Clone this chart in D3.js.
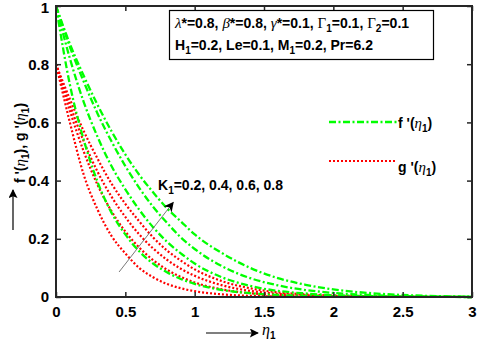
<!DOCTYPE html>
<html><head><meta charset="utf-8">
<script src="https://cdn.jsdelivr.net/npm/d3@7"></script>
<style>
html,body{margin:0;padding:0;background:#fff;}
svg{display:block;}
text{font-family:"Liberation Sans",Arial,sans-serif;font-weight:bold;fill:#000;}
.gr{font-family:"Liberation Serif","Times New Roman",serif;font-weight:normal;}
</style></head>
<body>
<script>
// ---- data ----
const eta = [0,0.1,0.2,0.3,0.4,0.5,0.6,0.7,0.8,0.9,1.0,1.2,1.4,1.6,1.8,2.0,2.25,2.5,2.75,3.0];
const fK02 = [1,0.73,0.54,0.395,0.29,0.215,0.157,0.115,0.085,0.062,0.045,0.024,0.013,0.007,0.004,0.002,0.001,0.0005,0.0002,0];
const fK04 = [1,0.82,0.67,0.55,0.45,0.37,0.30,0.24,0.19,0.15,0.115,0.067,0.038,0.021,0.012,0.006,0.003,0.001,0.0005,0];
const fK06 = [1,0.86,0.74,0.63,0.535,0.45,0.375,0.31,0.255,0.205,0.165,0.105,0.065,0.04,0.024,0.014,0.007,0.003,0.001,0];
const fK08 = [1,0.87,0.76,0.66,0.57,0.49,0.42,0.36,0.305,0.26,0.215,0.15,0.10,0.065,0.042,0.026,0.014,0.007,0.003,0.001];
const gK02 = [0.8,0.6,0.42,0.3,0.21,0.15,0.10,0.068,0.045,0.03,0.02,0.009,0.004,0.002,0.001,0.0005,0.0002,0,0,0];
const gK04 = [0.8,0.64,0.5,0.385,0.295,0.225,0.17,0.127,0.094,0.069,0.05,0.026,0.013,0.0065,0.003,0.0015,0.0005,0.0002,0,0];
const gK06 = [0.8,0.66,0.535,0.43,0.345,0.275,0.215,0.167,0.128,0.097,0.073,0.04,0.021,0.011,0.006,0.003,0.001,0.0005,0,0];
const gK08 = [0.8,0.68,0.57,0.475,0.39,0.32,0.26,0.205,0.16,0.125,0.095,0.054,0.03,0.016,0.009,0.005,0.002,0.001,0.0005,0];
const xTicks = [0,0.5,1,1.5,2,2.5,3];
const yTicks = [0,0.2,0.4,0.6,0.8,1];
const kLabel = "=0.2, 0.4, 0.6, 0.8";

const W=480,H=346;
const svg=d3.select("body").append("svg").attr("width",W).attr("height",H);
const x=d3.scaleLinear().domain([0,3]).range([56,472]);
const y=d3.scaleLinear().domain([0,1]).range([297,6]);

const line=d3.line().x(d=>x(d[0])).y(d=>y(d[1])).curve(d3.curveMonotoneX);
const green="#00ff00", red="#ff0000";
const dashDot="7,2.5,2,2.5", dotted="2,2";

const plot=svg.append("g");
[gK02,gK04,gK06,gK08].forEach(s=>{
  plot.append("path").attr("d",line(eta.map((e,i)=>[e,s[i]])))
    .attr("fill","none").attr("stroke",red).attr("stroke-width",2.2).attr("stroke-dasharray",dotted);
});
[fK02,fK04,fK06,fK08].forEach(s=>{
  plot.append("path").attr("d",line(eta.map((e,i)=>[e,s[i]])))
    .attr("fill","none").attr("stroke",green).attr("stroke-width",2.3).attr("stroke-dasharray",dashDot);
});

// axes (ticks inward, box)
const fs=14, tfs=15;
const ax=d3.axisBottom(x).tickValues(xTicks).tickFormat(d3.format("")).tickSizeInner(-5).tickSizeOuter(0).tickPadding(9);
const gx=svg.append("g").attr("transform",`translate(0,${y(0)})`).call(ax);
const ay=d3.axisLeft(y).tickValues(yTicks).tickFormat(d3.format("")).tickSizeInner(-5).tickSizeOuter(0).tickPadding(7);
const gy=svg.append("g").attr("transform",`translate(${x(0)},0)`).call(ay);
const axT=d3.axisTop(x).tickValues(xTicks).tickFormat("").tickSizeInner(-5).tickSizeOuter(0);
const gt=svg.append("g").attr("transform",`translate(0,${y(1)})`).call(axT);
const axR=d3.axisRight(y).tickValues(yTicks).tickFormat("").tickSizeInner(-5).tickSizeOuter(0);
const gr=svg.append("g").attr("transform",`translate(${x(3)},0)`).call(axR);
[gx,gy,gt,gr].forEach(g=>{
  g.select(".domain").remove();
  g.selectAll(".tick line").attr("stroke","#262626").attr("stroke-width",1.5);
  g.selectAll(".tick text").attr("font-size",tfs).attr("font-family","'Liberation Sans',Arial,sans-serif").attr("font-weight","bold").attr("fill","#000");
});
gy.selectAll(".tick text").filter(d=>d===1).attr("dy","0.42em");
svg.append("rect").attr("x",x(0)).attr("y",y(1)).attr("width",x(3)-x(0)).attr("height",y(0)-y(1))
  .attr("fill","none").attr("stroke","#262626").attr("stroke-width",2);

// parameter box
svg.append("rect").attr("x",169.5).attr("y",10.5).attr("width",264).attr("height",49)
  .attr("fill","#fff").attr("stroke","#000").attr("stroke-width",1.2);
function addRich(parent, parts){
  parts.forEach(p=>{
    const t=parent.append("tspan").text(p.t);
    if(p.g) t.attr("class","gr").attr("font-style",p.i?"italic":"normal").attr("font-size",p.fs||15);
    if(p.sub) t.attr("dy",4).attr("font-size",10);
    if(p.up) t.attr("dy",-4);
  });
}
const t1=svg.append("text").attr("x",175).attr("y",28).attr("font-size",fs);
addRich(t1,[{t:"λ",g:1,i:1},{t:"*=0.8, "},{t:"β",g:1,i:1},{t:"*=0.8, "},{t:"γ",g:1,i:1},{t:"*=0.1, "},
  {t:"Γ",g:1},{t:"1",sub:1},{t:"=0.1, ",up:1},{t:"Γ",g:1},{t:"2",sub:1},{t:"=0.1",up:1}]);
const t2=svg.append("text").attr("x",175).attr("y",50).attr("font-size",fs);
addRich(t2,[{t:"H"},{t:"1",sub:1},{t:"=0.2, Le=0.1, M",up:1},{t:"1",sub:1},{t:"=0.2, Pr=6.2",up:1}]);

// legend
svg.append("line").attr("x1",329).attr("x2",397).attr("y1",122).attr("y2",122)
  .attr("stroke",green).attr("stroke-width",2.3).attr("stroke-dasharray",dashDot);
svg.append("line").attr("x1",329).attr("x2",396).attr("y1",161).attr("y2",161)
  .attr("stroke",red).attr("stroke-width",2.2).attr("stroke-dasharray",dotted);
const l1=svg.append("text").attr("x",398).attr("y",128).attr("font-size",fs);
addRich(l1,[{t:"f '("},{t:"η",g:1,i:1},{t:"1",sub:1},{t:")",up:1}]);
const l2=svg.append("text").attr("x",398).attr("y",172).attr("font-size",fs);
addRich(l2,[{t:"g '("},{t:"η",g:1,i:1},{t:"1",sub:1},{t:")",up:1}]);

// K annotation
svg.append("defs").append("marker").attr("id","ah").attr("viewBox","0 0 10 10").attr("refX",9).attr("refY",5)
  .attr("markerWidth",10).attr("markerHeight",10).attr("markerUnits","userSpaceOnUse").attr("orient","auto")
  .append("path").attr("d","M0,0 L10,5 L0,10 L3,5 Z").attr("fill","#000");
svg.append("line").attr("x1",x(0.455)).attr("y1",y(0.086)).attr("x2",x(0.845)).attr("y2",y(0.325))
  .attr("stroke","#555").attr("stroke-width",0.8).attr("marker-end","url(#ah)");
const kt=svg.append("text").attr("x",158).attr("y",190).attr("font-size",fs);
addRich(kt,[{t:"K"},{t:"1",sub:1},{t:kLabel,up:1}]);

// x label
svg.append("defs").append("marker").attr("id","ah2").attr("viewBox","0 0 10 10").attr("refX",9).attr("refY",5)
  .attr("markerWidth",11).attr("markerHeight",9).attr("markerUnits","userSpaceOnUse").attr("orient","auto")
  .append("path").attr("d","M0,0 L10,5 L0,10 L2,5 Z").attr("fill","#000");
svg.append("line").attr("x1",206).attr("y1",333).attr("x2",258).attr("y2",333)
  .attr("stroke","#000").attr("stroke-width",1.2).attr("marker-end","url(#ah2)");
const xl=svg.append("text").attr("x",262).attr("y",335).attr("font-size",fs);
addRich(xl,[{t:"η",g:1,i:1,fs:16},{t:"1",sub:1}]);

// y label
svg.append("line").attr("x1",13).attr("y1",230).attr("x2",13).attr("y2",190)
  .attr("stroke","#000").attr("stroke-width",1.2).attr("marker-end","url(#ah2)");
const yl=svg.append("text").attr("transform","translate(25,143) rotate(-90)").attr("text-anchor","middle").attr("font-size",fs);
addRich(yl,[{t:"f '("},{t:"η",g:1,i:1},{t:"1",sub:1},{t:"), g '(",up:1},{t:"η",g:1,i:1},{t:"1",sub:1},{t:")",up:1}]);
</script>
</body></html>
